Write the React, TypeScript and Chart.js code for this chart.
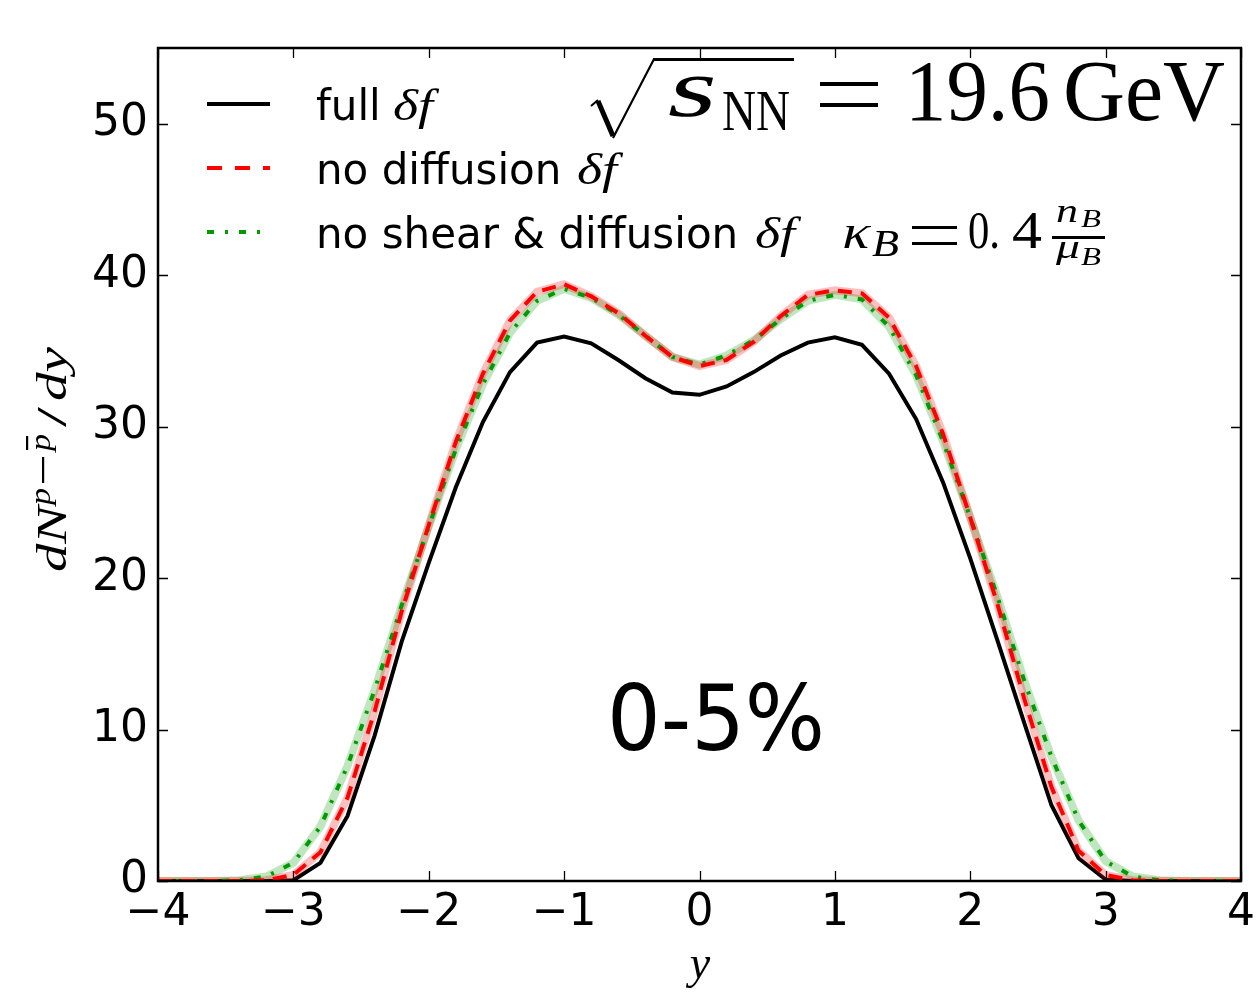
import React, { useEffect, useRef } from "react";
import { Chart, registerables } from "chart.js";

Chart.register(...registerables);

const rapidity = [-4.0, -3.8, -3.6, -3.4, -3.2, -3.0, -2.8, -2.6, -2.4, -2.2, -2.0, -1.8, -1.6, -1.4, -1.2, -1.0, -0.8, -0.6, -0.4, -0.2, 0.0, 0.2, 0.4, 0.6, 0.8, 1.0, 1.2, 1.4, 1.6, 1.8, 2.0, 2.2, 2.4, 2.6, 2.8, 3.0, 3.2, 3.4, 3.6, 3.8, 4.0];

const fullDf = [0, 0, 0, 0, 0, 0.05, 1.2, 4.3, 9.6, 15.8, 21.0, 26.0, 30.3, 33.6, 35.55, 35.95, 35.5, 34.4, 33.2, 32.25, 32.1, 32.65, 33.6, 34.7, 35.55, 35.9, 35.4, 33.5, 30.5, 26.3, 21.3, 15.9, 10.4, 5.0, 1.5, 0.1, 0, 0, 0, 0, 0];

const noDiffusionDf = [0, 0, 0, 0, 0.05, 0.4, 1.9, 5.5, 11.2, 17.8, 23.5, 29.0, 33.5, 37.0, 38.9, 39.4, 38.6, 37.5, 36.0, 34.6, 34.0, 34.4, 35.6, 37.3, 38.7, 39.0, 38.8, 37.2, 34.0, 29.5, 24.0, 18.3, 12.0, 6.2, 2.0, 0.4, 0.05, 0, 0, 0, 0];

const noShearDiffusionDf = [0, 0, 0, 0.05, 0.3, 1.2, 3.6, 7.6, 12.6, 18.2, 23.4, 28.5, 32.8, 36.2, 38.3, 39.1, 38.5, 37.4, 36.0, 34.6, 34.1, 34.7, 35.7, 37.1, 38.3, 38.7, 38.4, 36.6, 33.4, 29.0, 24.0, 18.8, 13.2, 8.2, 4.0, 1.3, 0.3, 0.05, 0, 0, 0];

const xTicks = [-4, -3, -2, -1, 0, 1, 2, 3, 4];
const yTicks = [0, 10, 20, 30, 40, 50];

const legendLabels = ["full", "no diffusion", "no shear & diffusion"];

const SANS = "'DejaVu Sans', sans-serif";
const SERIF = "'Liberation Serif', 'DejaVu Serif', serif";

function pts(ys: number[]) {
  return rapidity.map((x, i) => ({ x, y: ys[i] }));
}

function fitText(ctx: CanvasRenderingContext2D, text: string, x: number, y: number, font: string, width?: number, skew = 0) {
  ctx.save();
  ctx.font = font;
  ctx.textAlign = "left";
  ctx.textBaseline = "alphabetic";
  const w = ctx.measureText(text).width;
  ctx.translate(x, y);
  if (skew) ctx.transform(1, 0, -skew, 1, 0, 0);
  if (width) ctx.scale(width / w, 1);
  ctx.fillText(text, 0, 0);
  ctx.restore();
}

const decorPlugin = {
  id: "decor",
  afterDraw(chart: any) {
    const ctx: CanvasRenderingContext2D = chart.ctx;
    const { left, right, top, bottom } = chart.chartArea;
    const xs = chart.scales.x;
    const ys = chart.scales.y;
    ctx.save();
    ctx.fillStyle = "#000";
    ctx.strokeStyle = "#000";

    // inward ticks on all sides
    ctx.lineWidth = 1.3;
    ctx.beginPath();
    xTicks.forEach((v) => {
      const px = Math.round(xs.getPixelForValue(v)) + 0.5;
      ctx.moveTo(px, bottom);
      ctx.lineTo(px, bottom - 10);
      ctx.moveTo(px, top);
      ctx.lineTo(px, top + 10);
    });
    yTicks.forEach((v) => {
      const py = Math.round(ys.getPixelForValue(v)) + 0.5;
      ctx.moveTo(left, py);
      ctx.lineTo(left + 10, py);
      ctx.moveTo(right, py);
      ctx.lineTo(right - 10, py);
    });
    ctx.stroke();

    // frame
    ctx.lineWidth = 2.5;
    ctx.strokeRect(left, top, right - left, bottom - top);

    // legend
    const rows = [104, 168, 232];
    ctx.lineCap = "butt";
    ctx.lineWidth = 4;
    ctx.strokeStyle = "#000";
    ctx.setLineDash([]);
    ctx.beginPath(); ctx.moveTo(207, rows[0]); ctx.lineTo(270, rows[0]); ctx.stroke();
    ctx.strokeStyle = "#ff0000";
    ctx.setLineDash([15, 13]);
    ctx.beginPath(); ctx.moveTo(207, rows[1]); ctx.lineTo(270, rows[1]); ctx.stroke();
    ctx.strokeStyle = "#009a00";
    ctx.setLineDash([7, 11, 3, 11]);
    ctx.beginPath(); ctx.moveTo(207, rows[2]); ctx.lineTo(270, rows[2]); ctx.stroke();
    ctx.setLineDash([]);

    const lf = `42px ${SANS}`;
    const dfFont = `italic 44px ${SERIF}`;
    const dfX = [393, 577, 755];
    legendLabels.forEach((t, i) => {
      fitText(ctx, t, 316, rows[i] + 16, lf);
      fitText(ctx, "\u03B4f", dfX[i], rows[i] + 16, dfFont, 40);
    });

    // sqrt(s_NN) = 19.6 GeV
    ctx.lineJoin = "miter";
    ctx.strokeStyle = "#000";
    ctx.lineWidth = 2;
    ctx.beginPath();
    ctx.moveTo(591, 106);
    ctx.lineTo(598, 100);
    ctx.stroke();
    ctx.lineWidth = 5;
    ctx.beginPath();
    ctx.moveTo(598, 101);
    ctx.lineTo(613, 136);
    ctx.stroke();
    ctx.lineWidth = 2.2;
    ctx.beginPath();
    ctx.moveTo(613, 138);
    ctx.lineTo(654, 59);
    ctx.lineTo(794, 59);
    ctx.stroke();
    ctx.lineWidth = 3;
    ctx.beginPath(); ctx.moveTo(653, 59.5); ctx.lineTo(794, 59.5); ctx.stroke();

    fitText(ctx, "s", 664, 116, `84px ${SERIF}`, 48, 0.25);
    fitText(ctx, "NN", 722, 130, `56px ${SERIF}`, 68);
    ctx.fillRect(820, 82, 58, 4);
    ctx.fillRect(820, 103, 58, 4);
    fitText(ctx, "19.6", 905, 120, `86px ${SERIF}`, 145);
    fitText(ctx, "GeV", 1063, 120, `86px ${SERIF}`, 162);

    // kappa_B = 0.4 n_B / mu_B
    fitText(ctx, "\u03BA", 840, 248, `48px ${SERIF}`, 28, 0.25);
    fitText(ctx, "B", 872, 256, `italic 38px ${SERIF}`, 27);
    ctx.fillRect(912, 226, 45, 3);
    ctx.fillRect(912, 242, 45, 3);
    fitText(ctx, "0.", 968, 248, `52px ${SERIF}`, 32);
    fitText(ctx, "4", 1012, 248, `52px ${SERIF}`, 30);
    ctx.fillRect(1052, 236, 53, 3);
    fitText(ctx, "n", 1056, 222, `italic 34px ${SERIF}`, 22);
    fitText(ctx, "B", 1081, 227, `italic 26px ${SERIF}`, 20);
    fitText(ctx, "\u03BC", 1056, 258, `italic 34px ${SERIF}`, 24);
    fitText(ctx, "B", 1081, 265, `italic 26px ${SERIF}`, 20);

    // centrality
    fitText(ctx, "0-5%", 607, 750, `90px ${SANS}`, 218);

    // x axis title
    ctx.save();
    ctx.font = `italic 46px ${SERIF}`;
    ctx.textAlign = "center";
    ctx.fillText("y", 700, 978);
    ctx.restore();

    // y axis title (rotated)
    ctx.save();
    ctx.translate(66, 0);
    ctx.rotate(-Math.PI / 2);
    fitText(ctx, "dN", -572, 0, `italic 42px ${SERIF}`, 66);
    fitText(ctx, "p", -505, -16, `italic 30px ${SERIF}`, 17);
    ctx.fillRect(-483, -24, 26, 2.2);
    fitText(ctx, "p", -451, -16, `italic 30px ${SERIF}`, 17);
    ctx.fillRect(-450, -40, 14, 2.2);
    fitText(ctx, "/", -427, 0, `42px ${SERIF}`, 20);
    fitText(ctx, "dy", -401, 0, `italic 42px ${SERIF}`, 54);
    ctx.restore();

    ctx.restore();
  },
};

export default function App() {
  const ref = useRef<HTMLCanvasElement | null>(null);

  useEffect(() => {
    document.body.style.margin = "0";
    const canvas = ref.current!;
    const chart = new Chart(canvas, {
      type: "line",
      data: {
        datasets: [
          {
            label: "black",
            data: pts(fullDf),
            borderColor: "#000000",
            borderWidth: 4,
            pointRadius: 0,
            tension: 0,
            order: 5,
          },
          {
            label: "green band",
            data: pts(noShearDiffusionDf),
            borderColor: "rgba(0,154,0,0.25)",
            borderWidth: 8,
            pointRadius: 0,
            tension: 0,
            order: 4,
          },
          {
            label: "red band",
            data: pts(noDiffusionDf),
            borderColor: "rgba(255,0,0,0.25)",
            borderWidth: 8,
            pointRadius: 0,
            tension: 0,
            order: 3,
          },
          {
            label: "green",
            data: pts(noShearDiffusionDf),
            borderColor: "#009a00",
            borderWidth: 4,
            borderDash: [7, 11, 3, 11],
            pointRadius: 0,
            tension: 0,
            order: 2,
          },
          {
            label: "red",
            data: pts(noDiffusionDf),
            borderColor: "#ff0000",
            borderWidth: 4,
            borderDash: [14, 9],
            pointRadius: 0,
            tension: 0,
            order: 1,
          },
        ],
      },
      options: {
        animation: false,
        responsive: false,
        devicePixelRatio: 1,
        layout: { padding: { top: 48, right: 16, left: 0, bottom: 0 } },
        plugins: {
          legend: { display: false },
          tooltip: { enabled: false },
        },
        scales: {
          x: {
            type: "linear",
            min: -4,
            max: 4,
            grid: { display: false, drawTicks: false },
            border: { display: false },
            afterFit: (s: any) => { s.height = 111; s.paddingLeft = 0; s.paddingRight = 0; },
            afterBuildTicks: (s: any) => { s.ticks = xTicks.map((v) => ({ value: v })); },
            ticks: {
              color: "#000",
              padding: 6,
              maxRotation: 0,
              font: { family: SANS, size: 44 },
              callback: (v: any) => (Number(v) < 0 ? "\u2212" + Math.abs(Number(v)) : String(v)),
            },
          },
          y: {
            type: "linear",
            min: 0,
            max: 55,
            grid: { display: false, drawTicks: false },
            border: { display: false },
            afterFit: (s: any) => { s.width = 158; s.paddingTop = 0; s.paddingBottom = 0; },
            afterBuildTicks: (s: any) => { s.ticks = yTicks.map((v) => ({ value: v })); },
            ticks: {
              color: "#000",
              padding: 10,
              font: { family: SANS, size: 44 },
              callback: (v: any) => String(v),
            },
          },
        },
      },
      plugins: [decorPlugin],
    });
    return () => chart.destroy();
  }, []);

  return (
    <div style={{ position: "fixed", left: 0, top: 0, width: 1257, height: 992, background: "#fff" }}>
      <canvas ref={ref} width={1257} height={992} style={{ width: 1257, height: 992, display: "block" }} />
    </div>
  );
}
